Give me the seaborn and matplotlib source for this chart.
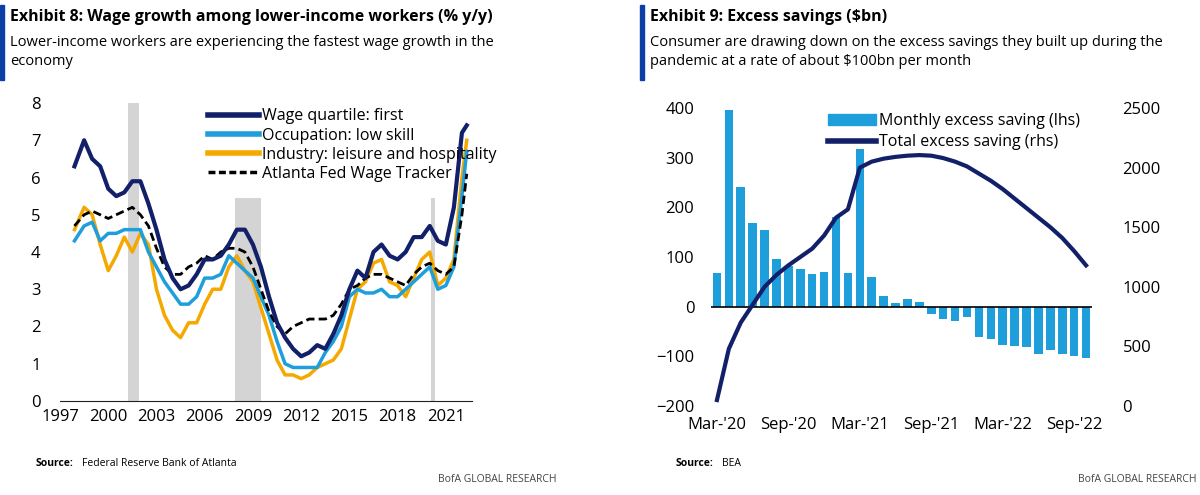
import matplotlib
matplotlib.use("Agg")
import matplotlib.pyplot as plt
import seaborn as sns
import pandas as pd
from matplotlib.patches import Patch, Rectangle
from matplotlib.lines import Line2D

plt.rcParams["font.family"] = ["Liberation Sans Narrow", "Open Sans", "DejaVu Sans"]

NAVY = "#12206a"
LBLUE = "#1e9fdc"
ORANGE = "#f5a900"
BRAND = "#0b3fa6"

# Exhibit 8 data (% y/y)
years = [1997.9, 1998.5, 1999.0, 1999.5, 2000.0, 2000.5, 2001.0, 2001.5, 2002.0, 2002.5,
         2003.0, 2003.5, 2004.0, 2004.5, 2005.0, 2005.5, 2006.0, 2006.5, 2007.0, 2007.5,
         2008.0, 2008.5, 2009.0, 2009.5, 2010.0, 2010.5, 2011.0, 2011.5, 2012.0, 2012.5,
         2013.0, 2013.5, 2014.0, 2014.5, 2015.0, 2015.5, 2016.0, 2016.5, 2017.0, 2017.5,
         2018.0, 2018.5, 2019.0, 2019.5, 2020.0, 2020.5, 2021.0, 2021.5, 2022.0, 2022.3]
wage_q1 = [6.3, 7.0, 6.5, 6.3, 5.7, 5.5, 5.6, 5.9, 5.9, 5.3,
           4.6, 3.8, 3.3, 3.0, 3.1, 3.4, 3.8, 3.8, 3.9, 4.2,
           4.6, 4.6, 4.2, 3.6, 2.8, 2.1, 1.7, 1.4, 1.2, 1.3,
           1.5, 1.4, 1.8, 2.3, 3.0, 3.5, 3.3, 4.0, 4.2, 3.9,
           3.8, 4.0, 4.4, 4.4, 4.7, 4.3, 4.2, 5.2, 7.2, 7.4]
low_skill = [4.3, 4.7, 4.8, 4.3, 4.5, 4.5, 4.6, 4.6, 4.6, 4.0,
             3.6, 3.2, 2.9, 2.6, 2.6, 2.8, 3.3, 3.3, 3.4, 3.9,
             3.7, 3.5, 3.3, 2.8, 2.3, 1.6, 1.0, 0.9, 0.9, 0.9,
             0.9, 1.3, 1.6, 2.0, 2.8, 3.0, 2.9, 2.9, 3.0, 2.8,
             2.8, 3.0, 3.2, 3.4, 3.6, 3.0, 3.1, 3.6, 5.5, 6.7]
leisure = [4.6, 5.2, 5.0, 4.2, 3.5, 3.9, 4.4, 4.0, 4.5, 4.2,
           3.0, 2.3, 1.9, 1.7, 2.1, 2.1, 2.6, 3.0, 3.0, 3.6,
           3.9, 3.5, 3.2, 2.5, 1.8, 1.1, 0.7, 0.7, 0.6, 0.7,
           0.9, 1.0, 1.1, 1.4, 2.2, 3.0, 3.2, 3.7, 3.8, 3.2,
           3.1, 2.8, 3.3, 3.8, 4.0, 3.1, 3.3, 3.8, 6.0, 7.0]
atl_fed = [4.7, 5.0, 5.1, 5.0, 4.9, 5.0, 5.1, 5.2, 5.0, 4.7,
           4.1, 3.6, 3.4, 3.4, 3.6, 3.7, 3.9, 3.8, 4.0, 4.1,
           4.1, 4.0, 3.6, 3.0, 2.4, 2.0, 1.8, 2.0, 2.1, 2.2,
           2.2, 2.2, 2.3, 2.6, 3.0, 3.1, 3.3, 3.4, 3.4, 3.3,
           3.2, 3.1, 3.4, 3.6, 3.7, 3.5, 3.4, 3.6, 5.0, 6.1]
recessions = [(2001.2, 2001.9, 8.0), (2007.9, 2009.5, 5.45), (2020.1, 2020.3, 5.45)]
left_ticks = [1997, 2000, 2003, 2006, 2009, 2012, 2015, 2018, 2021]

# Exhibit 9 data ($bn)
months = ["Mar-'20", "Apr-'20", "May-'20", "Jun-'20", "Jul-'20", "Aug-'20", "Sep-'20", "Oct-'20",
          "Nov-'20", "Dec-'20", "Jan-'21", "Feb-'21", "Mar-'21", "Apr-'21", "May-'21", "Jun-'21",
          "Jul-'21", "Aug-'21", "Sep-'21", "Oct-'21", "Nov-'21", "Dec-'21", "Jan-'22", "Feb-'22",
          "Mar-'22", "Apr-'22", "May-'22", "Jun-'22", "Jul-'22", "Aug-'22", "Sep-'22", "Oct-'22"]
monthly_saving = [68, 395, 240, 168, 155, 95, 82, 75, 65, 70, 180, 68, 318, 60, 22, 7,
                  15, 10, -15, -25, -28, -20, -62, -65, -78, -80, -82, -95, -88, -95, -100, -103]
total_saving = [50, 480, 700, 850, 1000, 1100, 1180, 1250, 1320, 1430, 1580, 1650, 2000, 2050,
                2075, 2090, 2100, 2105, 2100, 2080, 2050, 2010, 1950, 1890, 1820, 1740, 1660,
                1580, 1500, 1410, 1300, 1180]
right_tick_labels = ["Mar-'20", "Sep-'20", "Mar-'21", "Sep-'21", "Mar-'22", "Sep-'22"]

W, H = 1200, 495
fig = plt.figure(figsize=(12, 4.95), dpi=100)


def px(x0, y0, x1, y1):
    return [x0 / W, 1 - y1 / H, (x1 - x0) / W, (y1 - y0) / H]


def header(x, title, sub, source):
    fig.patches.append(Rectangle((x / W, 1 - 80 / H), 4 / W, 75 / H, color=BRAND,
                                 transform=fig.transFigure, figure=fig))
    fig.text((x + 10) / W, 1 - 17 / H, title, fontsize=11.5, fontweight="bold", va="center")
    fig.text((x + 10) / W, 1 - 35 / H, sub, fontsize=10.5, va="top", linespacing=1.35)
    fig.text((x + 36) / W, 1 - 463 / H, "Source:", fontsize=7.5, fontweight="bold", va="center")
    fig.text((x + 82) / W, 1 - 463 / H, source, fontsize=7.5, va="center")
    fig.text((x + 556) / W, 1 - 480 / H, "BofA GLOBAL RESEARCH", fontsize=7.5, va="center",
             ha="right", color="#444444")


# Left panel
header(0, "Exhibit 8: Wage growth among lower-income workers (% y/y)",
       "Lower-income workers are experiencing the fastest wage growth in the\neconomy",
       "Federal Reserve Bank of Atlanta")
ax = fig.add_axes(px(60, 103, 478, 401))
for a, b, top in recessions:
    ax.fill_between([a, b], 0, top, color="#d4d4d4", lw=0)
df = pd.DataFrame({"year": years, "Wage quartile: first": wage_q1,
                   "Occupation: low skill": low_skill,
                   "Industry: leisure and hospitality": leisure,
                   "Atlanta Fed Wage Tracker": atl_fed})
sns.lineplot(data=df, x="year", y="Industry: leisure and hospitality", ax=ax, color=ORANGE, lw=2.5)
sns.lineplot(data=df, x="year", y="Occupation: low skill", ax=ax, color=LBLUE, lw=2.5)
sns.lineplot(data=df, x="year", y="Atlanta Fed Wage Tracker", ax=ax, color="black", lw=2, ls=(0, (3, 1.5)))
sns.lineplot(data=df, x="year", y="Wage quartile: first", ax=ax, color=NAVY, lw=3)
ax.set_xlim(1997, 2023)
ax.set_ylim(0, 8)
ax.set_xticks(left_ticks)
ax.set_yticks(range(9))
ax.set_xlabel("")
ax.set_ylabel("")
for s in ["top", "right", "left"]:
    ax.spines[s].set_visible(False)
ax.spines["bottom"].set_color("#222222")
ax.spines["bottom"].set_bounds(1997, 2022.6)
ax.tick_params(length=0, labelsize=12)
ax.tick_params(axis="y", pad=14)
ax.tick_params(axis="x", pad=6)
handles = [Line2D([], [], color=NAVY, lw=4), Line2D([], [], color=LBLUE, lw=4),
           Line2D([], [], color=ORANGE, lw=4), Line2D([], [], color="black", lw=2.5, ls=(0, (2, 1)))]
ax.legend(handles, ["Wage quartile: first", "Occupation: low skill",
                    "Industry: leisure and hospitality", "Atlanta Fed Wage Tracker"],
          loc="upper left", bbox_to_anchor=(0.32, 1.03), frameon=False, fontsize=11.5,
          handlelength=3.2, handletextpad=0.2, labelspacing=0.2)

# Right panel
header(640, "Exhibit 9: Excess savings ($bn)",
       "Consumer are drawing down on the excess savings they built up during the\n"
       "pandemic at a rate of about $100bn per month", "BEA")
ax2 = fig.add_axes(px(711, 108, 1092, 406))
sdf = pd.DataFrame({"month": months, "monthly": monthly_saving, "total": total_saving,
                    "pos": range(len(months))})
sns.barplot(data=sdf, x="pos", y="monthly", ax=ax2, color=LBLUE, width=0.72, saturation=1)
ax2.axhline(0, color="black", lw=1.2)
ax2.set_ylim(-200, 400)
ax2.set_xlim(-0.5, len(months) - 0.5)
ax2.set_yticks(range(-200, 401, 100))
ax2.set_xticks([months.index(m) for m in right_tick_labels])
ax2.set_xticklabels(right_tick_labels)
ax2.set_xlabel("")
ax2.set_ylabel("")
ax3 = ax2.twinx()
sns.lineplot(data=sdf, x="pos", y="total", ax=ax3, color=NAVY, lw=3)
ax3.set_ylim(0, 2500)
ax3.set_yticks(range(0, 2501, 500))
ax3.set_ylabel("")
for a in (ax2, ax3):
    for s in a.spines.values():
        s.set_visible(False)
    a.tick_params(length=0, labelsize=12, pad=8)
ax2.tick_params(axis="y", pad=12)
ax3.tick_params(pad=22)
ax2.legend([Patch(color=LBLUE), Line2D([], [], color=NAVY, lw=4)],
           ["Monthly excess saving (lhs)", "Total excess saving (rhs)"],
           loc="upper left", bbox_to_anchor=(0.27, 1.03), frameon=False, fontsize=11.5,
           handlelength=3, handletextpad=0.2, labelspacing=0.3)

fig.savefig("out.png", dpi=100, facecolor="white")
